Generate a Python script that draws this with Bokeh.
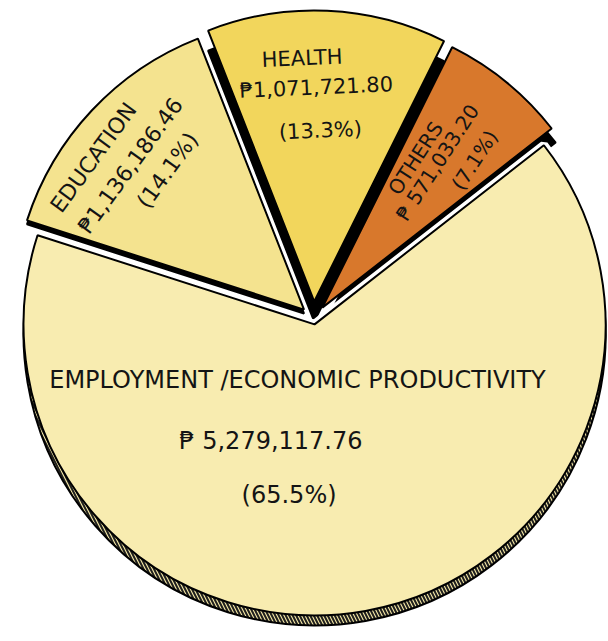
import math
from bokeh.plotting import figure
from bokeh.models import Range1d, ColumnDataSource
from bokeh.embed import file_html
from bokeh.resources import INLINE
from bokeh.core.properties import value

# ---------------- data ----------------
categories = ["OTHERS", "HEALTH", "EDUCATION", "EMPLOYMENT /ECONOMIC PRODUCTIVITY"]
amounts = [571033.20, 1071721.80, 1136186.46, 5279117.76]
amount_labels = ["₱ 571,033.20", "₱1,071,721.80", "₱1,136,186.46", "₱ 5,279,117.76"]
percent_labels = ["(7.1%)", "(13.3%)", "(14.1%)", "(65.5%)"]

# ---------------- style / layout ----------------
W, H = 608, 641
colors = ["#d8782c", "#f2d65c", "#f4e38f", "#f8ecb0"]
explode = [14, 17, 13, 6]
shadow_shift = [(4, -14), (0, -20), (0, -4), (0, 0)]
start_deg = 38.0
O = (313.0, H - 318.0)
R = 291.0
rim_drop = 10.0

# label placement (radius, angle in degrees) around pie centre, per line
name_pos = [(190.0, 57.5), (260.5, 92.5), (272.6, 143.8), (64.0, -104.5)]
amount_pos = [(199.4, 51.5), (231.0, 89.3), (238.5, 140.1), (130.1, -109.1)]
pct_pos = [(226.0, 44.5), (188.1, 87.9), (207.9, 134.6), (177.7, -97.9)]
text_angle_deg = [57.0, 2.5, 54.0, 0.0]
font_px = [20, 21, 22, 24]

total = sum(amounts)
starts, ends, cxs, cys = [], [], [], []
a = math.radians(start_deg)
for amt, e in zip(amounts, explode):
    span = 2 * math.pi * amt / total
    s, t = a, a + span
    mid = (s + t) / 2
    starts.append(s)
    ends.append(t)
    cxs.append(O[0] + e * math.cos(mid))
    cys.append(O[1] + e * math.sin(mid))
    a = t

p = figure(width=W, height=H, x_range=Range1d(0, W), y_range=Range1d(0, H),
           x_axis_location=None, y_axis_location=None, toolbar_location=None,
           output_backend="svg", min_border=0)
p.grid.visible = False
p.outline_line_color = None
p.background_fill_color = "white"
p.border_fill_color = "white"

upper = [0, 1, 2]
emp = 3

# 3D side faces (shadows) of the small slices
p.wedge(x=[cxs[i] + shadow_shift[i][0] for i in upper],
        y=[cys[i] + shadow_shift[i][1] for i in upper],
        radius=R, start_angle=[starts[i] for i in upper], end_angle=[ends[i] for i in upper],
        fill_color="black", line_color="black", line_width=2)

# white halo around the big slice
p.wedge(x=cxs[emp], y=cys[emp], radius=R, start_angle=starts[emp], end_angle=ends[emp],
        fill_color="white", line_color="white", line_width=9)

# hatched (rope) rim of the big slice
p.wedge(x=cxs[emp], y=cys[emp] - rim_drop, radius=R, start_angle=starts[emp], end_angle=ends[emp],
        fill_color="#f3e6a4", hatch_pattern="\\", hatch_color="#1e1e1e", hatch_scale=7,
        hatch_weight=2.0, line_color="black", line_width=2)

# big slice top face
p.wedge(x=cxs[emp], y=cys[emp], radius=R, start_angle=starts[emp], end_angle=ends[emp],
        fill_color=colors[emp], line_color="black", line_width=2)

# small slices
p.wedge(x=[cxs[i] for i in upper], y=[cys[i] for i in upper], radius=R,
        start_angle=[starts[i] for i in upper], end_angle=[ends[i] for i in upper],
        fill_color=[colors[i] for i in upper], line_color="black", line_width=2)

# labels
tx, ty, tt, ta, tf = [], [], [], [], []
for i in range(4):
    for (r, ang), txt in ((name_pos[i], categories[i]), (amount_pos[i], amount_labels[i]),
                          (pct_pos[i], percent_labels[i])):
        tx.append(O[0] + r * math.cos(math.radians(ang)))
        ty.append(O[1] + r * math.sin(math.radians(ang)))
        tt.append(txt)
        ta.append(math.radians(text_angle_deg[i]))
        tf.append(f"{font_px[i]}px")

src = ColumnDataSource(dict(x=tx, y=ty, text=tt, angle=ta, size=tf))
p.text(x="x", y="y", text="text", angle="angle", source=src,
       text_font=value("DejaVu Sans"), text_font_size="size",
       text_align="center", text_baseline="middle", text_color="#141414")

open("out.html", "w").write(file_html(p, INLINE))
